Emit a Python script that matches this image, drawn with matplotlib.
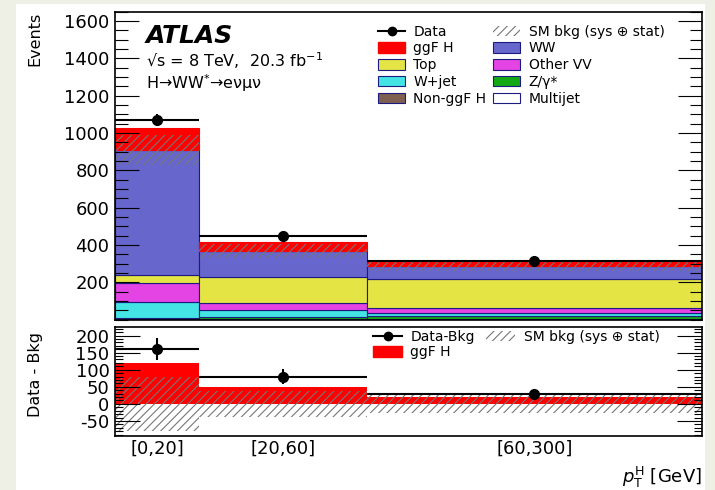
import numpy as np
import matplotlib
matplotlib.use("Agg")
import matplotlib.pyplot as plt
from matplotlib.patches import Patch, Rectangle
from matplotlib.lines import Line2D
from matplotlib.ticker import MultipleLocator, FixedLocator

# pT(H) bins, drawn with widths 1:2:4
bin_labels = ["[0,20]", "[20,60]", "[60,300]"]
bin_widths = [1, 2, 4]

data = [1068, 448, 317]
data_err = [32, 21, 16]
ggf = [120, 48, 20]
ww = [666, 138, 69]
top = [47, 138, 158]
other_vv = [97, 38, 28]
wjet = [88, 37, 15]
zgamma = [5, 11, 14]
nonggf = [3, 4, 4]
multijet = [2, 2, 1]
bkg_unc = [80, 38, 27]

plt.rcParams["hatch.linewidth"] = 0.8
plt.rcParams["axes.unicode_minus"] = False
plt.rcParams["font.family"] = ["DejaVu Sans"]

edges = np.concatenate([[0], np.cumsum(bin_widths)])
lefts = edges[:-1]
widths = np.diff(edges)
centers = lefts + widths / 2

# stack from the bottom up
stack = [
    (multijet, "white", "Multijet"),
    (nonggf, "#7f5f4f", "Non-ggF H"),
    (zgamma, "#14a814", "Z/γ*"),
    (wjet, "#44e4e4", "W+jet"),
    (other_vv, "#e444e4", "Other VV"),
    (top, "#e4e444", "Top"),
    (ww, "#6666cc", "WW"),
]
navy = "#1c1c80"

fig = plt.figure(figsize=(7.15, 4.90), dpi=100)
fig.patch.set_facecolor("#eef0e6")
fig.patches.append(Rectangle((16 / 715, 0), 689 / 715, 486 / 490,
                             transform=fig.transFigure, facecolor="white",
                             edgecolor="none", zorder=-10))

ax = fig.add_axes([115 / 715, 1 - 319.8 / 490, 587 / 715, 308.1 / 490])
axr = fig.add_axes([115 / 715, 1 - 436 / 490, 587 / 715, 109.3 / 490])

# ---- main panel
bottom = np.zeros(3)
handles = {}
for vals, col, lab in stack:
    ax.bar(lefts, vals, width=widths, bottom=bottom, align="edge",
           color=col, edgecolor=navy, linewidth=0.8)
    handles[lab] = Patch(facecolor=col, edgecolor=navy, linewidth=0.8)
    bottom = bottom + np.array(vals)
bkg = bottom.copy()
ax.bar(lefts, ggf, width=widths, bottom=bkg, align="edge",
       color="red", edgecolor="red", linewidth=0.8)
handles["ggF H"] = Patch(facecolor="red", edgecolor="red")

unc = np.array(bkg_unc)
ax.bar(lefts, 2 * unc, width=widths, bottom=bkg - unc, align="edge",
       facecolor="none", edgecolor="#777777", hatch="////", linewidth=0)
handles["SM bkg"] = Patch(facecolor="none", edgecolor="#777777",
                          hatch="////", linewidth=0)

ax.errorbar(centers, data, xerr=widths / 2, yerr=data_err, fmt="o",
            color="black", ms=7, elinewidth=1.5, capsize=0)
handles["Data"] = Line2D([], [], color="black", marker="o", ms=6, lw=1.5)

ax.set_xlim(edges[0], edges[-1])
ax.set_ylim(0, 1650)
ax.yaxis.set_major_locator(FixedLocator(np.arange(200, 1601, 200)))
ax.yaxis.set_minor_locator(MultipleLocator(50))
ax.set_xticks([])
ax.tick_params(axis="y", which="both", direction="in", left=True, right=True,
               labelsize=13, width=0.8, pad=4)
ax.tick_params(axis="y", which="major", length=17)
ax.tick_params(axis="y", which="minor", length=9)
ax.set_ylabel("Events", loc="top", fontsize=11.5)
ax.yaxis.set_label_coords(-0.124, 1.0)

ax.text(0.053, 0.898, "ATLAS", transform=ax.transAxes, fontsize=18,
        fontweight="bold", fontstyle="italic")
ax.text(0.053, 0.822, "√s = 8 TeV,  20.3 fb$^{-1}$", transform=ax.transAxes,
        fontsize=11.5)
ax.text(0.053, 0.750, "H→WW$^{*}$→eνμν", transform=ax.transAxes, fontsize=11.5)

order = ["Data", "ggF H", "Top", "W+jet", "Non-ggF H",
         "SM bkg", "WW", "Other VV", "Z/γ*", "Multijet"]
labels = [k if k != "SM bkg" else "SM bkg (sys ⊕ stat)" for k in order]
ax.legend([handles[k] for k in order], labels,
          ncol=2, loc="upper left", bbox_to_anchor=(0.448, 0.958),
          frameon=False, fontsize=10, borderpad=0, borderaxespad=0,
          handlelength=1.95, handleheight=0.8, handletextpad=0.6,
          labelspacing=0.2, columnspacing=0.5)

for sp in ax.spines.values():
    sp.set_linewidth(1.2)

# ---- lower panel: data minus background
diff = np.array(data) - bkg
axr.bar(lefts, ggf, width=widths, align="edge", color="red", linewidth=0)
axr.bar(lefts, 2 * unc, width=widths, bottom=-unc, align="edge",
        facecolor="none", edgecolor="#777777", hatch="////", linewidth=0)
axr.errorbar(centers, diff, xerr=widths / 2, yerr=data_err, fmt="o",
             color="black", ms=7, elinewidth=1.5, capsize=0)

axr.set_xlim(edges[0], edges[-1])
axr.set_ylim(-94, 226)
axr.yaxis.set_major_locator(FixedLocator(np.arange(-50, 201, 50)))
axr.yaxis.set_minor_locator(MultipleLocator(10))
axr.set_xticks(centers)
axr.set_xticklabels(bin_labels)
axr.tick_params(axis="x", length=0, labelsize=13, pad=3)
axr.tick_params(axis="y", which="both", direction="in", left=True, right=True,
                labelsize=13, width=0.8, pad=4)
axr.tick_params(axis="y", which="major", length=18)
axr.tick_params(axis="y", which="minor", length=6)
axr.set_ylabel("Data - Bkg", loc="top", fontsize=11.5)
axr.yaxis.set_label_coords(-0.123, 0.955)
axr.set_xlabel(r"$p_{\mathrm{T}}^{\mathrm{H}}$ [GeV]", loc="right", fontsize=13,
               labelpad=4.5)

axr.legend([Line2D([], [], color="black", marker="o", ms=6, lw=1.5),
            Patch(facecolor="red", edgecolor="red"),
            Patch(facecolor="none", edgecolor="#777777", hatch="////", linewidth=0)],
           ["Data-Bkg", "ggF H", "SM bkg (sys ⊕ stat)"],
           ncol=2, loc="upper left", bbox_to_anchor=(0.4395, 0.97),
           frameon=False, fontsize=10, borderpad=0, borderaxespad=0,
           handlelength=2.1, handleheight=0.8, handletextpad=0.6,
           labelspacing=0.1, columnspacing=0.8)

for sp in axr.spines.values():
    sp.set_linewidth(1.2)

fig.savefig("out.png", dpi=100, facecolor=fig.get_facecolor())
